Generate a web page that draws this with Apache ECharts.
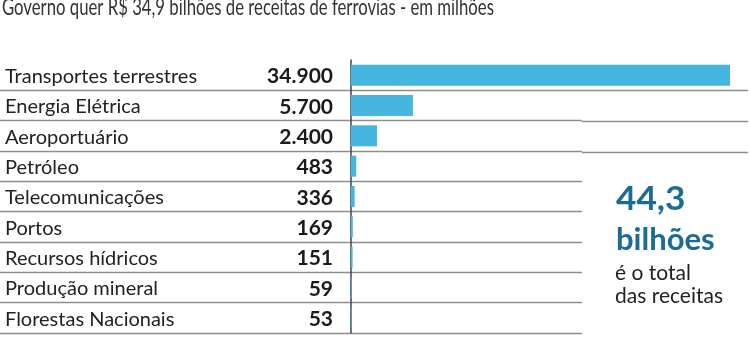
<!DOCTYPE html>
<html><head><meta charset="utf-8">
<script src="https://cdn.jsdelivr.net/npm/echarts@6/dist/echarts.min.js"></script>
<style>html,body{margin:0;padding:0;background:#fff}#c{width:750px;height:350px}</style>
</head><body><div id="c"></div>
<script>
const titleText = 'Governo quer R$ 34,9 bilhões de receitas de ferrovias - em milhões';
const categories = ['Transportes terrestres','Energia Elétrica','Aeroportuário','Petróleo','Telecomunicações','Portos','Recursos hídricos','Produção mineral','Florestas Nacionais'];
const values = [34900, 5700, 2400, 483, 336, 169, 151, 59, 53];
const unitWord = 'bilhões';
const noteLines = ['é o total', 'das receitas'];
const longRuleRows = 3; // rows 1..3 have separators running to the right edge

function fmt(n){ return String(n).replace(/\B(?=(\d{3})+(?!\d))/g, '.'); }
const total = values.reduce((a,b)=>a+b,0);
const totalStr = (total/1000).toFixed(1).replace('.', ',');

const FONT = 'Lato';
const sepColor = '#8e8e8e';
const sepLine = {color:sepColor, width:1.4};
const sepAxis = (gi, max, showMax) => ({gridIndex:gi, type:'value', min:0, max:max, interval:1,
  axisLine:{show:false}, axisTick:{show:false}, axisLabel:{show:false},
  splitLine:{show:true, showMinLine:true, showMaxLine:showMax, lineStyle:sepLine}});

const chart = echarts.init(document.getElementById('c'), null, {renderer:'canvas'});
chart.setOption({
  animation:false,
  grid:[
    {left:351, top:60, width:379, height:273},
    {left:0, top:90, width:582, height:243},
    {left:582, top:60, width:166, height:92}
  ],
  xAxis:[
    {gridIndex:0, type:'value', min:0, max:34900, show:false},
    {gridIndex:1, type:'value', min:0, max:1, show:false},
    {gridIndex:2, type:'value', min:0, max:1, show:false}
  ],
  yAxis:[
    {gridIndex:0, type:'category', inverse:true, data:categories,
     axisLine:{show:true, lineStyle:{color:'#444', width:1.5}},
     axisTick:{show:false}, splitLine:{show:false},
     axisLabel:{margin:18, align:'right', interval:0,
       formatter:(v,i)=>'{n|'+v+'}{v|'+fmt(values[i])+'}',
       rich:{
         n:{width:230, align:'left', fontSize:20, fontFamily:FONT, color:'#222', padding:[3,0,0,0]},
         v:{width:98, align:'right', fontSize:21, fontWeight:'bold', fontFamily:FONT, color:'#1a1a1a', padding:[3,0,0,0]}
       }}},
    sepAxis(1, categories.length - 1, true),
    sepAxis(2, longRuleRows, false)
  ],
  series:[{type:'bar', xAxisIndex:0, yAxisIndex:0, data:values, barWidth:21,
    itemStyle:{color:'#45b6e0'}, z:3}],
  graphic:[
    {type:'text', x:2, y:7.5, scaleX:0.697, style:{text:titleText, font:'400 24px '+FONT, fill:'#333', verticalAlign:'middle'}},
    {type:'text', x:616, y:199.3, scaleX:1.1, style:{text:totalStr, font:'bold 32px '+FONT, fill:'#1c6b96', verticalAlign:'middle'}},
    {type:'text', x:616, y:240.3, style:{text:unitWord, font:'bold 31px '+FONT, fill:'#1c6b96', verticalAlign:'middle'}},
    {type:'text', x:615, y:273.3, style:{text:noteLines[0], font:'21px '+FONT, fill:'#222', verticalAlign:'middle'}},
    {type:'text', x:615, y:296.6, style:{text:noteLines[1], font:'21px '+FONT, fill:'#222', verticalAlign:'middle'}}
  ]
});
</script></body></html>
